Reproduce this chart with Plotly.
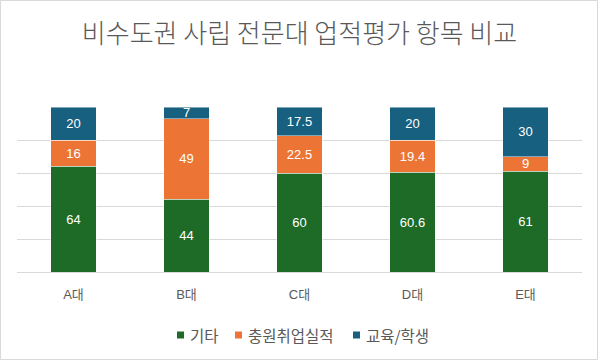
import plotly.graph_objects as go

categories = ["A대", "B대", "C대", "D대", "E대"]
etc_vals = [64, 44, 60, 60.6, 61]
recruit_vals = [16, 49, 22.5, 19.4, 9]
edu_vals = [20, 7, 17.5, 20, 30]

series = [
    ("기타", etc_vals, "#1E6B27"),
    ("충원취업실적", recruit_vals, "#EC7535"),
    ("교육/학생", edu_vals, "#18607F"),
]

kr_font = "Noto Sans CJK KR"
num_font = "Liberation Sans, Noto Sans CJK KR"

fig = go.Figure()
for name, vals, color in series:
    fig.add_trace(go.Bar(
        x=categories, y=vals, name=name, showlegend=False,
        marker=dict(color=color, line=dict(color="rgba(255,255,255,0.45)", width=1)),
        text=[str(v) for v in vals], textposition="inside", insidetextanchor="middle",
        textangle=0, constraintext="none",
        textfont=dict(color="white", size=13, family=num_font),
        hoverinfo="skip",
    ))

L, R, T, B = 17, 18, 107, 88
W, H = 600, 360
pw, ph = W - L - R, H - T - B

def px_x(p):
    return (p - L) / pw

def px_y(p):
    return (H - B - p) / ph

# legend layout (pixel anchors of each entry's swatch), drawn as real text
legend_swatch_x = [177, 235, 353]
legend_y = 335
shapes = [dict(type="rect", xref="paper", yref="paper",
               x0=px_x(0.5), x1=px_x(W - 2.5),
               y0=px_y(H - 0.5), y1=px_y(0.5),
               line=dict(color="#D9D9D9", width=1), fillcolor="rgba(0,0,0,0)", layer="below")]
annotations = []
for (name, _, color), sx in zip(series, legend_swatch_x):
    shapes.append(dict(type="rect", xref="paper", yref="paper",
                       x0=px_x(sx), x1=px_x(sx + 7),
                       y0=px_y(legend_y + 3.5), y1=px_y(legend_y - 3.5),
                       line=dict(width=0), fillcolor=color))
    annotations.append(dict(text=name, xref="paper", yref="paper",
                            x=px_x(sx + 11), y=px_y(legend_y), xanchor="left", yanchor="middle",
                            showarrow=False, font=dict(size=15.5, color="#595959", family=kr_font)))

fig.update_layout(
    width=W, height=H,
    barmode="stack", bargap=0.6,
    margin=dict(l=L, r=R, t=T, b=B, autoexpand=False),
    paper_bgcolor="white", plot_bgcolor="white",
    font=dict(family=kr_font, color="#595959"),
    title=dict(text="비수도권 사립 전문대 업적평가 항목 비교", x=0.5, xanchor="center",
               xref="paper", y=1 - 34 / H, yanchor="middle", automargin=False,
               font=dict(size=26, color="#595959", family=kr_font, weight=300)),
    uniformtext=dict(mode="show", minsize=10),
    showlegend=False,
    xaxis=dict(showgrid=False, showline=True, linecolor="#D9D9D9", linewidth=1, automargin=False,
               ticks="", tickfont=dict(size=13, color="#595959", family=num_font), ticklabelstandoff=10),
    yaxis=dict(range=[0, 100], dtick=20, showgrid=True, gridcolor="#D9D9D9", gridwidth=1,
               showticklabels=False, zeroline=False, fixedrange=True, automargin=False),
    shapes=shapes,
    annotations=annotations,
)

fig.write_html("out.html", config={"displayModeBar": False},
               post_script="document.body.style.margin='0';document.body.style.overflow='hidden';")
